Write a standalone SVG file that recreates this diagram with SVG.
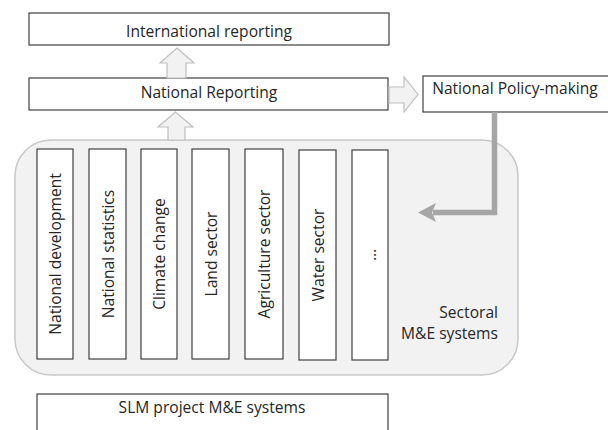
<svg xmlns="http://www.w3.org/2000/svg" width="608" height="430" viewBox="0 0 608 430">
<style>
.box{fill:#fff;stroke:#404040;stroke-width:1.2}
.txt{font-family:"Open Sans","Liberation Sans",Arial,sans-serif;font-size:15.6px;fill:#262626}
.blk{fill:#f2f2f2;stroke:#bfbfbf;stroke-width:1.2}
.vt{font-family:"Open Sans","Liberation Sans",Arial,sans-serif;font-size:15.6px;fill:#262626;text-anchor:middle;dominant-baseline:central}
</style>
<rect width="608" height="430" fill="#fff"/>
<g id="sectoral">
<rect x="15" y="140" width="503" height="235" rx="36" ry="36" fill="#f2f2f2" stroke="#c8c8c8" stroke-width="1.5"/>
<text class="txt" x="498" y="318" text-anchor="end">Sectoral</text>
<text class="txt" x="498" y="339" text-anchor="end">M&amp;E systems</text>
</g>
<g id="intl">
<rect class="box" x="29" y="13" width="360" height="32"/>
<text class="txt" x="209" y="37" text-anchor="middle">International reporting</text>
</g>
<g id="natrep">
<rect class="box" x="29" y="78" width="359" height="32"/>
<text class="txt" x="209" y="98" text-anchor="middle">National Reporting</text>
</g>
<g id="policy">
<rect class="box" x="423" y="76" width="190" height="36"/>
<text class="txt" x="515" y="94" text-anchor="middle">National Policy-making</text>
</g>
<g id="s1"><rect class="box" x="37" y="149" width="36" height="210"/><text class="vt" transform="translate(55,254) rotate(-90)">National development</text></g>
<g id="s2"><rect class="box" x="89" y="149" width="37" height="210"/><text class="vt" transform="translate(107.5,254) rotate(-90)">National statistics</text></g>
<g id="s3"><rect class="box" x="141" y="149" width="36" height="210"/><text class="vt" transform="translate(159,254) rotate(-90)">Climate change</text></g>
<g id="s4"><rect class="box" x="192" y="149" width="37" height="210"/><text class="vt" transform="translate(210.5,254) rotate(-90)">Land sector</text></g>
<g id="s5"><rect class="box" x="245" y="149" width="38" height="210"/><text class="vt" transform="translate(264,254) rotate(-90)">Agriculture sector</text></g>
<g id="s6"><rect class="box" x="299" y="150" width="37" height="210"/><text class="vt" transform="translate(317.5,255) rotate(-90)">Water sector</text></g>
<g id="s7"><rect class="box" x="352" y="150" width="36" height="210"/><text class="vt" transform="translate(370,255) rotate(-90)">…</text></g>
<g id="slm">
<rect class="box" x="37" y="394" width="351" height="50"/>
<text class="txt" x="212" y="413" text-anchor="middle">SLM project M&amp;E systems</text>
</g>
<g id="connectors">
<path class="blk" d="M167,78 V63 H160 L177,48 L194,63 H186 V78 Z"/>
<path class="blk" d="M168,140 V127 H158 L175.5,112 L193,127 H185 V140 Z"/>
<path class="blk" d="M389,87 H404 V77 L418,94.5 L404,112 V103 H389 Z"/>
<path d="M494.5,112 V212.5 H433" fill="none" stroke="#a6a6a6" stroke-width="5.5"/>
<path d="M418,212.5 L436,203 L432,212.5 L436,222 Z" fill="#a6a6a6"/>
</g>
</svg>
